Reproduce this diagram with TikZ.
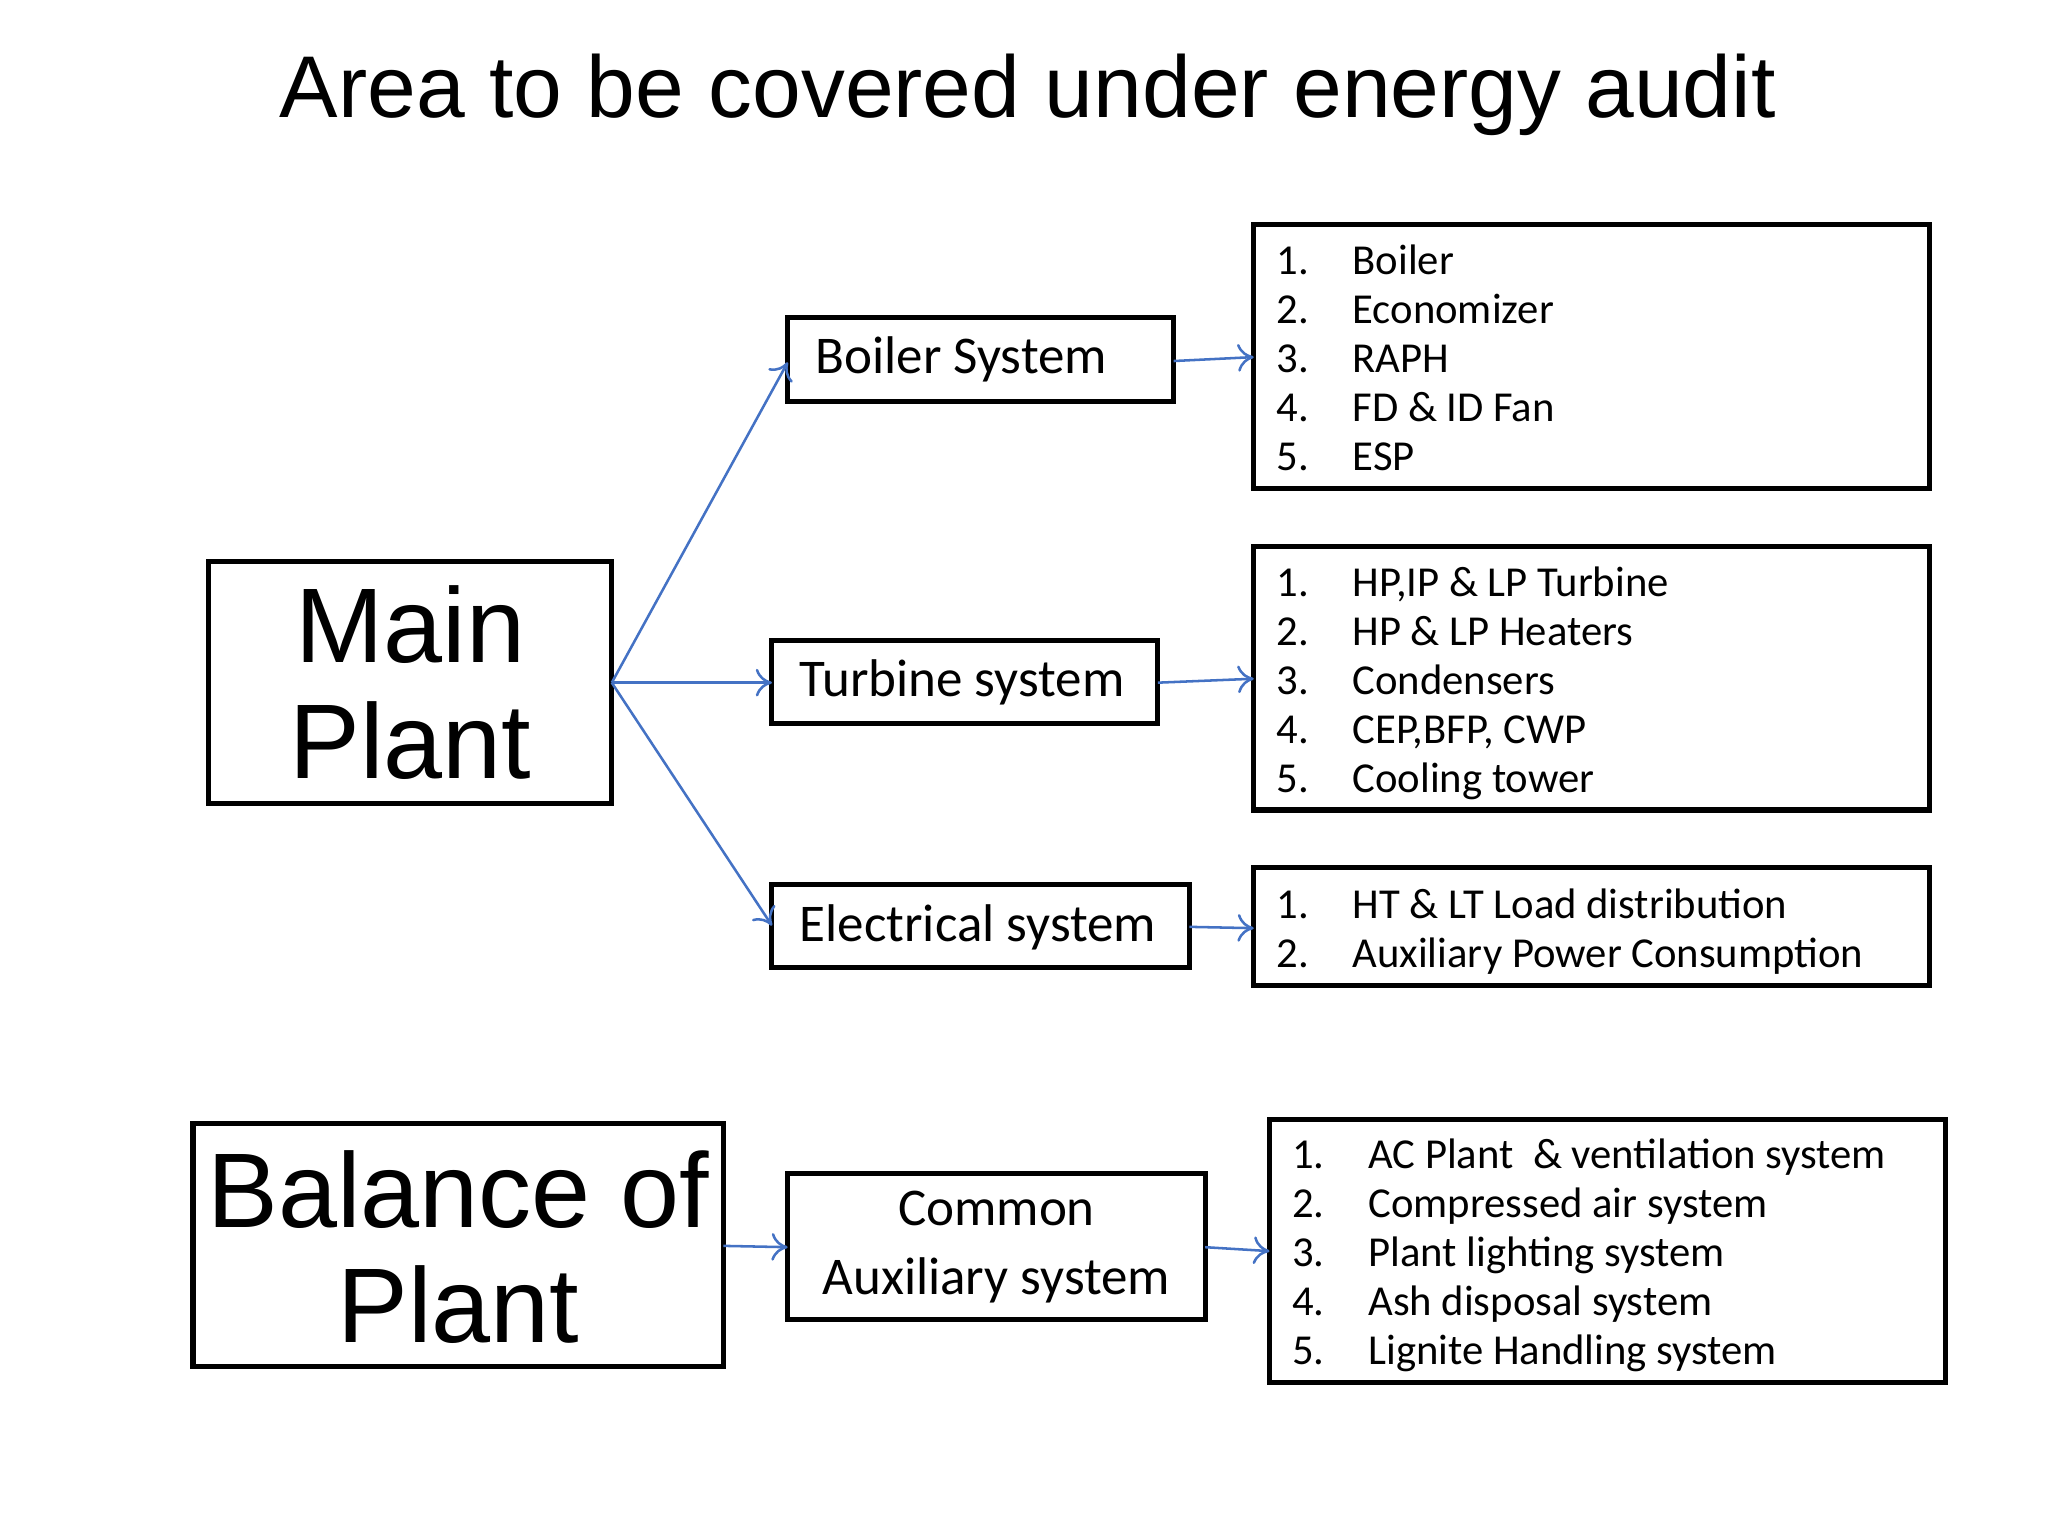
\documentclass[tikz,border=0pt]{standalone}
\usepackage{fontspec}
\setmainfont{Carlito}
\newfontfamily\arialf{Liberation Sans}
\usetikzlibrary{arrows.meta}
\definecolor{arr}{RGB}{68,114,196}
\tikzset{
 box/.style={draw=black,line width=2.2pt,inner sep=0pt},
 con/.style={draw=arr,line width=1.1pt,-{To[length=7pt,width=12pt]}},
}
\newcommand{\lst}[1]{\fontsize{18.5}{21.2}\selectfont\begin{tabular}{@{}p{1.16cm}@{}l@{}}#1\end{tabular}}
\begin{document}
\begin{tikzpicture}[x=0.02cm,y=-0.02cm]
\useasboundingbox (0,0) rectangle (1560,1170);
\node[font=\arialf\fontsize{38}{44}\selectfont] (title) at (783,72) {Area to be covered under energy audit};
% boxes
\draw[box] (159,428) rectangle (466,612); \node (mp) at (312.5,520) {};
\node[font=\arialf\fontsize{46}{52}\selectfont,align=center] (mpt) at (312.5,520) {Main\\[-2pt]Plant};
\draw[box] (600,242) rectangle (894,306);
\node[anchor=west,font=\fontsize{23}{27}\selectfont] (bs) at (615,274) {Boiler System};
\draw[box] (588,488) rectangle (882,551);
\node[anchor=west,font=\fontsize{23}{27}\selectfont] (ts) at (603,520) {Turbine system};
\draw[box] (588,674) rectangle (906,737);
\node[anchor=west,font=\fontsize{23}{27}\selectfont] (es) at (603,706) {Electrical system};
\draw[box] (147,856) rectangle (551,1041);
\node[font=\arialf\fontsize{46}{52}\selectfont,align=center] (bp) at (349,950) {Balance of\\[-2pt]Plant};
\draw[box] (600,894) rectangle (918,1005);
\node[font=\fontsize{23}{30}\selectfont,align=center] (ca) at (759,950) {Common\\Auxiliary system};
% lists
\draw[box] (955,171) rectangle (1470,372);
\node[anchor=north west,inner sep=0pt] (l1) at (972,183) {\lst{1. & Boiler\\2. & Economizer\\3. & RAPH\\4. & FD \& ID Fan\\5. & ESP}};
\draw[box] (955,416) rectangle (1470,617);
\node[anchor=north west,inner sep=0pt] (l2) at (972,428) {\lst{1. & HP,IP \& LP Turbine\\2. & HP \& LP Heaters\\3. & Condensers\\4. & CEP,BFP, CWP\\5. & Cooling tower}};
\draw[box] (955,661) rectangle (1470,751);
\node[anchor=north west,inner sep=0pt] (l3) at (972,673) {\lst{1. & HT \& LT Load distribution\\2. & Auxiliary Power Consumption}};
\draw[box] (967,853) rectangle (1482,1053);
\node[anchor=north west,inner sep=0pt] (l4) at (984,864) {\lst{1. & AC Plant\ \ \& ventilation system\\2. & Compressed air system\\3. & Plant lighting system\\4. & Ash disposal system\\5. & Lignite Handling system}};
% connectors
\coordinate (m0) at (466,520);
\coordinate (b0) at (600,276); \coordinate (t0) at (588,520); \coordinate (e0) at (588,705);
\draw[con] (m0) -- (b0);
\draw[con] (m0) -- (t0);
\draw[con] (m0) -- (e0);
\coordinate (b1) at (894,275); \coordinate (b2) at (955,272);
\coordinate (t1) at (882,520); \coordinate (t2) at (955,517);
\coordinate (e1) at (906,706); \coordinate (e2) at (955,707);
\coordinate (p1) at (551,949); \coordinate (p2) at (600,950);
\coordinate (c1) at (918,950); \coordinate (c2) at (967,953);
\draw[con] (b1) -- (b2);
\draw[con] (t1) -- (t2);
\draw[con] (e1) -- (e2);
\draw[con] (p1) -- (p2);
\draw[con] (c1) -- (c2);
\end{tikzpicture}
\end{document}
